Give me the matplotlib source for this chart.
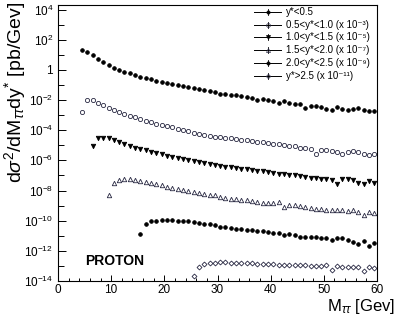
import numpy as np
import matplotlib
matplotlib.use("Agg")
import matplotlib.pyplot as plt
from matplotlib.lines import Line2D
from matplotlib.ticker import FixedLocator, MultipleLocator, FuncFormatter, NullFormatter

plt.rcParams['font.family'] = ['Liberation Sans', 'DejaVu Sans']
plt.rcParams['mathtext.fontset'] = 'custom'
plt.rcParams['mathtext.rm'] = 'Liberation Sans'
plt.rcParams['mathtext.it'] = 'Liberation Sans:italic'

# first mass bin of each rapidity range (1 GeV bins)
m_start = [4.5, 4.5, 6.5, 9.5, 15.5, 25.5]

# log10 of d2sigma/dM dy* (already scaled)
log_y1 = [1.34, 1.20, 0.96, 0.70, 0.50, 0.33, 0.15, 0.02, -0.11, -0.22,
          -0.33, -0.44, -0.55, -0.63, -0.72, -0.81, -0.90, -0.97, -1.03, -1.09,
          -1.16, -1.23, -1.30, -1.36, -1.42, -1.47,
          -1.58, -1.60, -1.65, -1.69, -1.73, -1.78, -1.89, -2.00, -1.95, -2.02,
          -2.09, -2.17, -2.09, -2.17, -2.24, -2.28, -2.50, -2.39, -2.39, -2.46,
          -2.57, -2.63, -2.46, -2.57, -2.68, -2.61, -2.52, -2.68, -2.74, -2.70]
log_y2 = [-2.77, -2.02, -2.02, -2.17, -2.35, -2.50, -2.66, -2.79, -2.92, -3.03,
          -3.14, -3.25, -3.36, -3.45, -3.56, -3.64, -3.73, -3.82, -3.91, -3.99,
          -4.08, -4.17, -4.24, -4.32, -4.41, -4.48,
          -4.48, -4.52, -4.54, -4.59, -4.63, -4.67, -4.72, -4.76, -4.81, -4.85,
          -4.89, -4.94, -4.98, -5.02, -5.07, -5.16, -5.20, -5.24, -5.57, -5.29,
          -5.33, -5.38, -5.42, -5.57, -5.42, -5.38, -5.46, -5.55, -5.64, -5.59]
log_y3 = [-5.02, -4.54, -4.50, -4.54, -4.63, -4.76, -4.89, -5.02, -5.16, -5.24,
          -5.33, -5.42, -5.51, -5.59, -5.68, -5.77, -5.86, -5.93, -6.00, -6.06,
          -6.12, -6.18, -6.24, -6.30,
          -6.38, -6.43, -6.47, -6.51, -6.56, -6.60, -6.67, -6.73, -6.73, -6.78,
          -6.82, -6.89, -6.91, -6.95, -7.00, -7.04, -7.11, -7.17, -7.17, -7.22,
          -7.26, -7.30, -7.55, -7.22, -7.26, -7.30, -7.50, -7.55, -7.35, -7.52]
log_y4 = [-8.31, -7.48, -7.30, -7.26, -7.26, -7.30, -7.35, -7.44, -7.50, -7.57,
          -7.66, -7.74, -7.83, -7.87, -7.96, -8.03, -8.09, -8.16, -8.23, -8.27,
          -8.31,
          -8.42, -8.47, -8.53, -8.58, -8.64, -8.62, -8.71, -8.75, -8.80, -8.86,
          -8.82, -8.75, -9.08, -8.93, -8.97, -9.02, -9.08, -9.19, -9.24, -9.24,
          -9.26, -9.30, -9.30, -9.32, -9.37, -9.30, -9.41, -9.63, -9.41, -9.52]
log_y5 = [-10.86, -10.20, -10.05, -10.00, -9.98, -9.98, -9.98, -10.00, -10.02,
          -10.05, -10.09, -10.16, -10.20, -10.24, -10.31,
          -10.40, -10.42, -10.46, -10.53, -10.57, -10.62, -10.64, -10.68, -10.70,
          -10.75, -10.79, -10.84, -10.92, -10.90, -10.94, -11.05, -11.05, -11.08,
          -11.10, -11.12, -11.16, -11.25, -11.12, -11.14, -11.30, -11.43, -11.52,
          -11.32, -11.65, -11.49]
log_y6 = [-13.69, -13.05, -12.87, -12.83, -12.79,
          -12.74, -12.77, -12.79, -12.79, -12.81, -12.81, -12.83, -12.85, -12.85,
          -12.87, -12.90, -12.92, -12.92, -12.94, -12.94, -12.96, -12.96, -12.98,
          -13.01, -13.03, -12.96, -13.25, -12.98, -13.05, -13.07, -13.09, -13.07,
          -13.36, -13.09, -13.14]

labels = ["y*<0.5",
          "0.5<y*<1.0 (x 10⁻³)",
          "1.0<y*<1.5 (x 10⁻⁵)",
          "1.5<y*<2.0 (x 10⁻⁷)",
          "2.0<y*<2.5 (x 10⁻⁹)",
          "y*>2.5 (x 10⁻¹¹)"]

series = [log_y1, log_y2, log_y3, log_y4, log_y5, log_y6]
markers = ['o', 'o', 'v', '^', 'o', 'D']
filled = [True, False, True, False, True, False]
sizes = [2.6, 3.0, 3.2, 3.2, 2.6, 2.5]

fig = plt.figure(figsize=(3.99, 3.19), dpi=100)
fig.patch.set_facecolor('white')
ax = fig.add_axes([58/399, 1-281/319, 319/399, 276/319])

for i in range(6):
    m = m_start[i] + np.arange(len(series[i]))
    v = 10.0 ** np.array(series[i])
    ec = 'black' if filled[i] else '#262640'
    fc = 'black' if filled[i] else 'none'
    ax.plot(m, v, linestyle='none', marker=markers[i], ms=sizes[i],
            mfc=fc, mec=ec, mew=0.6)

    # ROOT-like legend entry, placed by hand (axes fraction)
    yl = 0.975 - i * 0.0463
    ax.add_line(Line2D([0.615, 0.70], [yl, yl], transform=ax.transAxes,
                       color='black', lw=0.7))
    ax.add_line(Line2D([0.6575, 0.6575], [yl - 0.011, yl + 0.011],
                       transform=ax.transAxes, color='black', lw=0.6))
    ax.add_line(Line2D([0.6575], [yl], transform=ax.transAxes, ls='none',
                       marker=markers[i], ms=sizes[i]*0.9, mfc=fc, mec=ec, mew=0.5))
    ax.text(0.715, yl, labels[i], transform=ax.transAxes, fontsize=7,
            va='center', ha='left')

ax.set_yscale('log')
ax.set_xlim(0, 60)
ax.set_ylim(1e-14, 2e4)

ax.yaxis.set_major_locator(FixedLocator([10.0**k for k in range(-14, 5, 2)]))
ax.yaxis.set_minor_locator(FixedLocator([10.0**k for k in range(-13, 4, 2)]))
ax.yaxis.set_major_formatter(FuncFormatter(
    lambda v, p: '1' if abs(np.log10(v)) < 0.01 else '10$^{%d}$' % round(np.log10(v))))
ax.yaxis.set_minor_formatter(NullFormatter())
ax.xaxis.set_major_locator(MultipleLocator(10))
ax.xaxis.set_minor_locator(MultipleLocator(2))

ax.tick_params(which='both', direction='in', labelsize=8.5, width=0.7)
ax.tick_params(axis='y', which='major', length=6)
ax.tick_params(axis='y', which='minor', length=4)
ax.tick_params(axis='x', which='major', length=4.5, pad=2)
ax.tick_params(axis='x', which='minor', length=2.2)
for s in ax.spines.values():
    s.set_linewidth(0.8)

ax.text(0.085, 0.072, 'PROTON', transform=ax.transAxes, fontsize=10,
        fontweight='bold', va='center', ha='left')

fig.text(15/399, 1-2/319, 'd$\\sigma^{2}$/dM$_{\\tau\\tau}$dy$^{*}$ [pb/Gev]',
         rotation=90, ha='center', va='top', fontsize=14)
fig.text(395/399, 1-306/319, 'M$_{\\tau\\tau}$ [Gev]', ha='right',
         va='center', fontsize=12)

fig.savefig('out.png', dpi=100)
